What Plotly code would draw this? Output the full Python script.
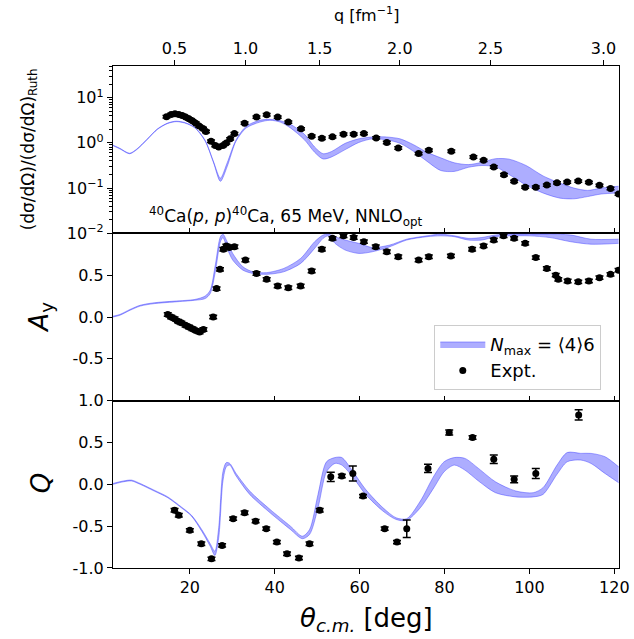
import numpy as np
import plotly.graph_objects as go
from plotly.subplots import make_subplots

# ---------------- experimental data ----------------
theta_xs = [14.5, 15.6, 16.5, 17.4, 18.2, 19.0, 19.8, 20.6, 21.4, 22.2, 23.1, 23.8, 25.0, 26.0,
            26.8, 27.8, 28.6, 29.5, 30.5, 32.9, 35.7, 38.1, 40.7, 43.2, 46.2, 48.7, 51.1, 53.6,
            56.2, 58.6, 61.0, 63.9, 66.4, 69.1, 73.9, 76.3, 81.6, 86.8, 89.2, 91.6, 94.0, 96.4,
            99.0, 101.5, 104.1, 106.5, 108.9, 111.5, 114.0, 116.5, 119.1, 121.0]
xs_ratio = [3.78, 4.26, 4.41, 4.26, 4.05, 3.72, 3.41, 3.08, 2.73, 2.35, 2.08, 1.79, 1.09, 0.873,
            0.815, 0.873, 1.00, 1.23, 1.61, 2.73, 3.72, 4.19, 3.72, 2.88, 2.05, 1.41, 1.27, 1.36,
            1.56, 1.56, 1.61, 1.29, 1.02, 0.774, 0.579, 0.687, 0.653, 0.489, 0.412, 0.293, 0.198, 0.141,
            0.105, 0.105, 0.117, 0.131, 0.136, 0.143, 0.134, 0.115, 0.098, 0.074]

theta_ay = [14.8, 15.6, 16.4, 17.2, 18.0, 19.0, 19.8, 20.6, 21.4, 22.3, 23.2, 25.5, 26.3, 27.1,
            27.9, 28.6, 29.3, 30.5, 33.1, 35.7, 38.1, 40.7, 43.2, 46.1, 48.7, 51.1, 53.6, 56.2,
            58.6, 61.0, 63.8, 66.4, 69.1, 73.9, 76.3, 81.5, 86.5, 89.2, 91.6, 93.9, 96.4, 99.0,
            101.5, 104.1, 106.2, 106.8, 109.0, 111.5, 114.0, 116.5, 119.1, 121.0]
ay = [0.03, 0.00, -0.02, -0.05, -0.07, -0.10, -0.12, -0.14, -0.16, -0.18, -0.15, 0.00, 0.34, 0.57,
      0.81, 0.85, 0.83, 0.84, 0.68, 0.52, 0.45, 0.37, 0.35, 0.37, 0.55, 0.81, 0.94, 0.97,
      0.95, 0.90, 0.84, 0.78, 0.72, 0.68, 0.72, 0.73, 0.81, 0.85, 0.92, 0.97, 0.94, 0.88,
      0.71, 0.58, 0.50, 0.45, 0.43, 0.42, 0.43, 0.47, 0.51, 0.56]

theta_q = [16.4, 17.4, 20.0, 22.7, 25.1, 27.6, 30.2, 32.9, 35.5, 38.0, 40.5, 42.9, 45.7, 48.2,
           50.6, 53.2, 55.8, 58.4, 60.8, 65.9, 68.8, 71.1, 76.1, 81.1, 86.6, 91.6, 96.4, 101.5, 111.6]
q_pol = [-0.31, -0.37, -0.55, -0.71, -0.89, -0.73, -0.41, -0.34, -0.44, -0.53, -0.69, -0.83, -0.88, -0.71,
         -0.31, 0.09, 0.10, 0.13, -0.14, -0.53, -0.69, -0.53, 0.19, 0.62, 0.56, 0.30, 0.06, 0.13, 0.83]
q_err = [0.02, 0.02, 0.02, 0.02, 0.02, 0.02, 0.02, 0.02, 0.02, 0.02, 0.02, 0.02, 0.02, 0.02,
         0.02, 0.055, 0.02, 0.09, 0.02, 0.02, 0.02, 0.105, 0.05, 0.03, 0.02, 0.05, 0.04, 0.06, 0.06]

# ---------------- theory bands ----------------
theta_th_xs = [1.9, 3.5, 5.8, 7.5, 9.9, 12.4, 14.8, 16.8, 18.8, 21.2, 23.6, 25.6, 27.2, 28.8,
               30.9, 33.3, 36.5, 38.9, 41.3, 43.7, 47.0, 49.4, 51.4, 53.4, 56.6, 59.8, 63.0, 66.3,
               69.5, 72.7, 75.9, 79.1, 82.3, 85.6, 88.8, 92.0, 95.2, 99.2, 103.2, 107.2, 110.5,
               113.7, 116.9, 121.0]
xs_lo = [0.87, 0.74, 0.575, 0.71, 1.17, 2.0, 2.69, 2.95, 2.75, 2.14, 1.10, 0.36, 0.141, 0.30,
         1.10, 2.14, 2.88, 3.16, 2.88, 2.14, 1.17, 0.62, 0.44, 0.49, 0.71, 1.02, 1.23, 1.17,
         0.98, 0.65, 0.39, 0.245, 0.234, 0.288, 0.316, 0.295, 0.20, 0.117, 0.078, 0.060, 0.058,
         0.065, 0.074, 0.078]
xs_hi = [0.89, 0.76, 0.59, 0.73, 1.2, 2.05, 2.75, 3.02, 2.82, 2.2, 1.14, 0.38, 0.166, 0.363,
         1.175, 2.34, 3.16, 3.31, 3.09, 2.57, 1.55, 0.81, 0.575, 0.646, 0.977, 1.23, 1.35, 1.35,
         1.23, 0.91, 0.617, 0.468, 0.363, 0.331, 0.372, 0.447, 0.437, 0.316, 0.186, 0.129, 0.10,
         0.089, 0.10, 0.11]

theta_th_ay = [1.9, 3.5, 5.9, 8.3, 11.6, 16.4, 21.2, 23.6, 24.8, 26.0, 27.2, 27.8, 28.8, 30.1,
               32.5, 34.9, 38.1, 42.1, 46.1, 49.4, 51.4, 52.6, 54.2, 56.6, 59.8, 63.0, 67.1, 71.1,
               75.9, 79.1, 82.3, 85.6, 88.8, 92.0, 95.2, 100.0, 104.8, 109.7, 114.5, 121.0]
ay_lo = [0.00, 0.02, 0.08, 0.13, 0.16, 0.18, 0.20, 0.22, 0.28, 0.54, 0.90, 0.95, 0.82, 0.68,
         0.56, 0.52, 0.51, 0.54, 0.64, 0.82, 0.94, 0.97, 0.88, 0.80, 0.76, 0.78, 0.84, 0.92,
         0.96, 0.97, 0.96, 0.92, 0.92, 0.96, 0.97, 0.97, 0.95, 0.90, 0.87, 0.88]
ay_hi = [0.01, 0.03, 0.09, 0.14, 0.17, 0.19, 0.21, 0.25, 0.32, 0.62, 0.96, 0.99, 0.90, 0.76,
         0.60, 0.54, 0.53, 0.58, 0.70, 0.90, 0.98, 0.99, 0.96, 0.92, 0.88, 0.83, 0.86, 0.93,
         0.97, 0.99, 0.97, 0.94, 0.95, 0.98, 0.99, 0.99, 0.99, 0.98, 0.93, 0.93]

theta_th_q = [1.9, 4.3, 6.3, 8.3, 11.6, 14.8, 18.0, 20.4, 22.8, 24.8, 25.9, 26.8, 27.8, 28.6,
              29.4, 30.9, 34.1, 38.9, 43.7, 46.5, 48.2, 50.2, 52.2, 54.2, 55.8, 58.2, 61.4, 65.5,
              68.6, 71.1, 74.3, 77.5, 79.9, 82.3, 84.8, 88.0, 92.0, 96.8, 100.9, 103.2, 106.5,
              108.9, 112.1, 114.5, 117.8, 121.0]
q_lo = [0.00, 0.03, 0.04, 0.00, -0.08, -0.16, -0.28, -0.38, -0.56, -0.74, -0.85, -0.64, 0.04, 0.21,
        0.23, 0.10, -0.12, -0.34, -0.54, -0.65, -0.60, -0.28, 0.15, 0.25, 0.23, 0.10, -0.12, -0.32,
        -0.42, -0.43, -0.28, -0.04, 0.15, 0.23, 0.17, 0.04, -0.10, -0.15, -0.15, -0.12, 0.12,
        0.27, 0.29, 0.25, 0.13, 0.02]
q_hi = [0.01, 0.04, 0.05, 0.01, -0.07, -0.15, -0.27, -0.37, -0.54, -0.71, -0.80, -0.52, 0.15, 0.26,
        0.25, 0.13, -0.08, -0.30, -0.50, -0.62, -0.54, -0.12, 0.27, 0.32, 0.32, 0.17, -0.06, -0.28,
        -0.40, -0.41, -0.20, 0.10, 0.27, 0.32, 0.31, 0.19, 0.03, -0.08, -0.10, -0.04, 0.23,
        0.38, 0.37, 0.37, 0.33, 0.21]

# top axis: momentum transfer ticks
q_ticks = [0.5, 1.0, 1.5, 2.0, 2.5, 3.0]
q_tick_labels = ["0.5", "1.0", "1.5", "2.0", "2.5", "3.0"]
k_cm = 1.755  # fm^-1, c.m. momentum for 65 MeV p + 40Ca
q_tick_theta = [float(np.degrees(2 * np.arcsin(q / (2 * k_cm)))) for q in q_ticks]

# log-axis minor tick positions (2..9 in each decade)
log_minor = [m * 10.0 ** e for e in range(-2, 2) for m in range(2, 10)]

FONT = "DejaVu Sans"
BAND_FILL = "rgba(0,0,255,0.32)"
BAND_LINE = "rgba(60,60,255,0.45)"
XR = [1.9, 121.1]

fig = make_subplots(rows=3, cols=1, shared_xaxes=True, vertical_spacing=0)


def add_band(th, lo, hi, row, legend=False):
    fig.add_trace(go.Scatter(x=th, y=lo, mode="lines", line=dict(color=BAND_LINE, width=1, shape="spline", smoothing=0.8),
                             showlegend=False, hoverinfo="skip"), row=row, col=1)
    fig.add_trace(go.Scatter(x=th, y=hi, mode="lines", line=dict(color=BAND_LINE, width=1, shape="spline", smoothing=0.8),
                             fill="tonexty", fillcolor=BAND_FILL, showlegend=legend,
                             name="<i>N</i><sub>max</sub> = ⟨4⟩6", hoverinfo="skip"), row=row, col=1)


def add_data(th, val, err, row, legend=False):
    fig.add_trace(go.Scatter(x=th, y=val, mode="markers",
                             marker=dict(color="black", size=7),
                             error_y=dict(type="data", array=err, color="black", thickness=1.5, width=4),
                             showlegend=legend, name="Expt."), row=row, col=1)


add_band(theta_th_xs, xs_lo, xs_hi, 1)
add_data(theta_xs, xs_ratio, [0.06 * v for v in xs_ratio], 1)
add_band(theta_th_ay, ay_lo, ay_hi, 2, legend=True)
add_data(theta_ay, ay, [0.02] * len(ay), 2, legend=True)
add_band(theta_th_q, q_lo, q_hi, 3)
add_data(theta_q, q_pol, q_err, 3)

# dummy trace to activate the top (q) axis
fig.add_trace(go.Scatter(x=[q_tick_theta[0]], y=[None], xaxis="x4", yaxis="y", showlegend=False, hoverinfo="skip"))

axis_common = dict(showline=True, linecolor="black", linewidth=1.3, mirror=True, showgrid=False,
                   zeroline=False, tickcolor="black", ticklen=5, tickwidth=1.2, automargin=False,
                   tickfont=dict(family=FONT, size=16, color="black"))

xt = [20, 40, 60, 80, 100, 120]
for i, name in enumerate(["xaxis", "xaxis2", "xaxis3"]):
    d = dict(axis_common)
    d.update(range=XR, tickvals=xt, ticktext=[str(v) for v in xt])
    if i < 2:
        d.update(ticks="inside", showticklabels=False)
    else:
        d.update(ticks="outside", showticklabels=True)
    fig.layout[name].update(**d)

fig.layout.xaxis4 = dict(overlaying="x", anchor="y", side="top", range=XR, tickvals=q_tick_theta,
                         ticktext=q_tick_labels, ticks="outside", ticklen=5, tickwidth=1.2, tickcolor="black",
                         showgrid=False, zeroline=False, showline=False, automargin=False,
                         tickfont=dict(family=FONT, size=16, color="black"))

fig.layout.yaxis.update(**axis_common, type="log", range=[-2, 1.7], ticks="outside",
                        tickvals=[0.01, 0.1, 1, 10],
                        ticktext=["10<sup>−2</sup>", "10<sup>−1</sup>", "10<sup>0</sup>", "10<sup>1</sup>"],
                        minor=dict(ticks="outside", ticklen=2.5, tickwidth=1, tickcolor="black",
                                   tickvals=log_minor, showgrid=False))
fig.layout.yaxis2.update(**axis_common, range=[-1, 1], ticks="outside", tickvals=[-0.5, 0, 0.5],
                         ticktext=["-0.5", "0.0", "0.5"])
fig.layout.yaxis3.update(**axis_common, range=[-1, 1], ticks="outside", tickvals=[-1, -0.5, 0, 0.5, 1],
                         ticktext=["-1.0", "-0.5", "0.0", "0.5", "1.0"])

annots = [
    dict(text="(dσ/dΩ)/(dσ/dΩ)<sub>Ruth</sub>", x=-0.165, y=0.833, textangle=-90, font=dict(size=17)),
    dict(text="<i>A</i><sub>y</sub>", x=-0.145, y=0.5, textangle=-90, font=dict(size=26)),
    dict(text="<i>Q</i>", x=-0.143, y=0.168, textangle=-90, font=dict(size=26)),
    dict(text="<i>θ</i><sub><i>c.m.</i></sub> [deg]", x=0.5, y=-0.103, font=dict(size=26)),
    dict(text="q [fm<sup>−1</sup>]", x=0.5, y=1.102, font=dict(size=16)),
    dict(text="<sup>40</sup>Ca(<i>p</i>, <i>p</i>)<sup>40</sup>Ca, 65 MeV, NNLO<sub>opt</sub>",
         x=0.067, y=0.70, xanchor="left", font=dict(size=17)),
]
for a in annots:
    a.setdefault("xanchor", "center")
    a.update(xref="paper", yref="paper", yanchor="middle", showarrow=False)
    a["font"] = dict(family=FONT, color="black", **a["font"])
    fig.add_annotation(**a)

fig.update_layout(
    width=634, height=639,
    margin=dict(l=113, r=15, t=66, b=71, autoexpand=False),
    plot_bgcolor="white", paper_bgcolor="white",
    font=dict(family=FONT, color="black"),
    legend=dict(x=0.965, y=0.355, xanchor="right", yanchor="bottom", traceorder="normal",
                bgcolor="rgba(255,255,255,0.85)", bordercolor="#cccccc", borderwidth=1,
                font=dict(family=FONT, size=18, color="black"), itemwidth=45),
)

fig.write_html("out.html", config={"displayModeBar": False},
               post_script="document.body.style.margin='0';document.body.style.padding='0';")
